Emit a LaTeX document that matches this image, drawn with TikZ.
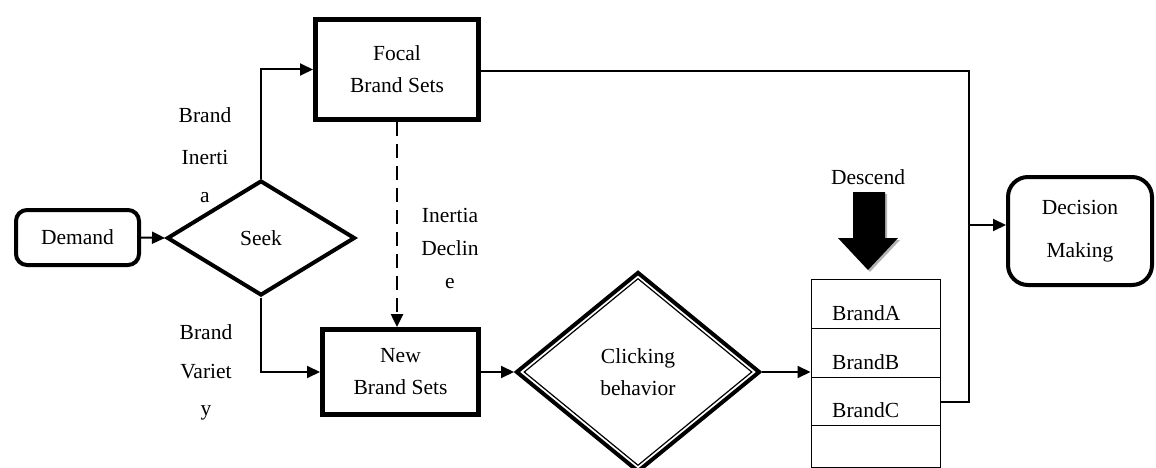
\documentclass[tikz,border=0pt]{standalone}
\usepackage{fontspec}
\setmainfont{Liberation Serif}
\usetikzlibrary{shapes.geometric,arrows.meta,calc}
\begin{document}
\begin{tikzpicture}[x=1pt,y=-1pt,
  font=\fontsize{21.5}{32}\selectfont,
  tip/.style={-{Triangle[length=13pt,width=12pt]}},
  conn/.style={line width=2pt,tip},
  thinconn/.style={line width=1.5pt},
  roundbox/.style={draw,line width=4pt,rounded corners=11pt,inner sep=0pt,align=center},
  sqbox/.style={draw,line width=5pt,inner sep=0pt,align=center},
  decide/.style={draw,diamond,line width=4pt,inner sep=0pt,align=center},
  lbl/.style={align=center,inner sep=0pt},
  rowline/.style={line width=1pt}
]
\useasboundingbox (0,0) rectangle (1156,468);

% nodes
\node[roundbox,minimum width=123pt,minimum height=55pt] (demand) at (77.5,237.5) {Demand};
\node[decide,minimum width=188pt,minimum height=115pt] (seek) at (261,238) {Seek};
\node[sqbox,minimum width=163pt,minimum height=100pt] (focal) at (397,69.5) {Focal\\Brand Sets};
\node[sqbox,minimum width=156pt,minimum height=85pt] (new) at (400.5,372) {New\\Brand Sets};
\node[decide,minimum width=244pt,minimum height=200pt] (click) at (638,372) {Clicking\\behavior};
\node[draw,diamond,line width=1.2pt,minimum width=228pt,minimum height=187pt,inner sep=0pt] (clickin) at (638,372) {};
\node[roundbox,rounded corners=20pt,minimum width=144pt,minimum height=108pt] (decision) at (1080,231) {Decision\\[11pt]Making};

% brand list
\node[draw,rowline,minimum width=129pt,minimum height=188pt,inner sep=0pt] (list) at (875.5,373) {};
\coordinate (r1) at (811,328);
\coordinate (r2) at (811,377);
\coordinate (r3) at (811,425);
\draw[rowline] (r1) -- (r1 -| list.east);
\draw[rowline] (r2) -- (r2 -| list.east);
\draw[rowline] (r3) -- (r3 -| list.east);
\node[anchor=west,inner sep=0pt] (ba) at (832,313) {BrandA};
\node[anchor=west,inner sep=0pt] (bb) at (832,362) {BrandB};
\node[anchor=west,inner sep=0pt] (bc) at (832,410) {BrandC};

% Descend arrow
\node[lbl] (desc) at (868,177) {Descend};
\fill[gray!60] (855,194) -- (887,194) -- (887,240) -- (900,240) -- (870,272) -- (840,240) -- (855,240) -- cycle;
\fill[black] (853,192) -- (885,192) -- (885,238) -- (898,238) -- (868,270) -- (838,238) -- (853,238) -- cycle;

% labels
\node[lbl] (bi1) at (205,115) {Brand};
\node[lbl] (bi2) at (205,157) {Inerti};
\node[lbl] (bi3) at (205,198) {a};
\node[lbl] (bv1) at (206,332) {Brand};
\node[lbl] (bv2) at (206,372) {Variet};
\node[lbl] (bv3) at (206,413) {y};
\node[lbl] (id1) at (450,215) {Inertia};
\node[lbl] (id2) at (450,248) {Declin};
\node[lbl] (id3) at (450,284) {e};

% junction coordinates
\coordinate (jtop) at (969,71);
\coordinate (jmid) at (969,225);
\coordinate (jbot) at (969,402);

% connectors
\draw[conn] (demand.east) -- (seek.west);
\draw[conn] (seek.north) |- (focal.west);
\draw[conn] (seek.south) |- (new.west);
\draw[line width=2.5pt,dash pattern=on 14pt off 8pt,tip] (focal.south) -- (focal.south |- new.north);
\draw[conn] (new.east) -- (click.west);
\draw[conn] (click.east) -- (list.west |- click.east);
\draw[thinconn] (focal.east |- jtop) -- (jtop) -- (jbot) -- (jbot -| list.east);
\draw[conn] (jmid) -- (jmid -| decision.west);
\end{tikzpicture}
\end{document}
